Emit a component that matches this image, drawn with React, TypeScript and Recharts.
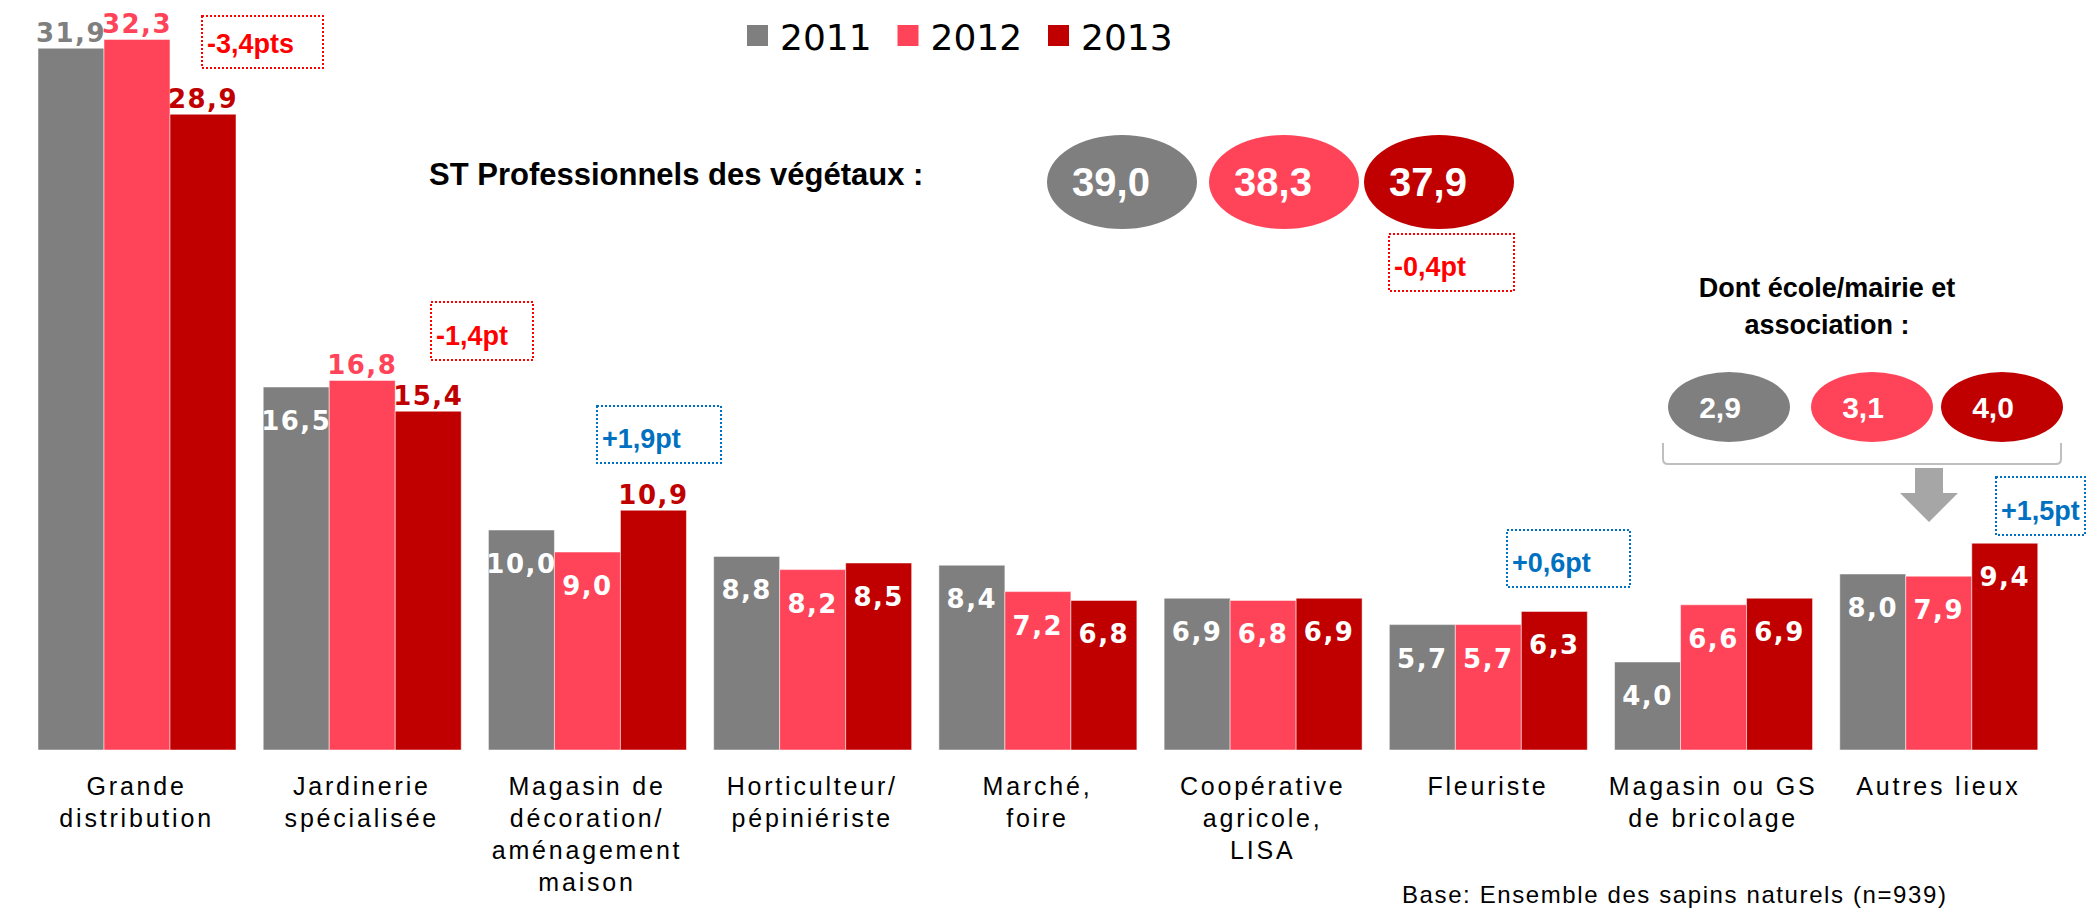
import React from 'react';
import { BarChart, Bar, XAxis, YAxis, LabelList } from 'recharts';

const categories = [
  'Grande\ndistribution',
  'Jardinerie\nspécialisée',
  'Magasin de\ndécoration/\naménagement\nmaison',
  'Horticulteur/\npépiniériste',
  'Marché,\nfoire',
  'Coopérative\nagricole,\nLISA',
  'Fleuriste',
  'Magasin ou GS\nde bricolage',
  'Autres lieux',
];
const values2011 = [31.9, 16.5, 10.0, 8.8, 8.4, 6.9, 5.7, 4.0, 8.0];
const values2012 = [32.3, 16.8, 9.0, 8.2, 7.2, 6.8, 5.7, 6.6, 7.9];
const values2013 = [28.9, 15.4, 10.9, 8.5, 6.8, 6.9, 6.3, 6.9, 9.4];
// indices whose value label sits above the bar (others are inside, white)
const outside2011 = [0];
const outside2012 = [0, 1];
const outside2013 = [0, 1, 2];

const seriesNames = ['2011', '2012', '2013'];
const seriesColors = ['#7f7f7f', '#ff4459', '#c00000'];

const stTitle = 'ST Professionnels des végétaux :';
const stValues = ['39,0', '38,3', '37,9'];
const schoolTitle = ['Dont école/mairie et', 'association :'];
const schoolValues = ['2,9', '3,1', '4,0'];
const baseNote = 'Base: Ensemble des sapins naturels (n=939)';

const deltaLabels = ['-3,4pts', '-1,4pt', '+1,9pt', '-0,4pt', '+0,6pt', '+1,5pt'];
const deltaUp = [false, false, true, false, true, true];

const data = categories.map((c, i) => ({
  cat: c,
  y2011: values2011[i],
  y2012: values2012[i],
  y2013: values2013[i],
}));

const fmt = (v: number) => v.toFixed(1).replace('.', ',');

const makeLabel = (color: string, outside: number[]) => (props: any) => {
  const { x, y, width, value, index } = props;
  const out = outside.includes(index);
  const cx = Number(x) + Number(width) / 2;
  return (
    <text
      x={cx}
      y={out ? Number(y) - 6 : Number(y) + 43}
      textAnchor="middle"
      fill={out ? color : '#ffffff'}
      fontFamily="DejaVu Sans"
      fontWeight="bold"
      fontSize={26}
      letterSpacing={1.5}
    >
      {fmt(Number(value))}
    </text>
  );
};

const CatTick = (props: any) => {
  const { x, y, payload } = props;
  const lines = String(payload.value).split('\n');
  return (
    <g>
      {lines.map((l, i) => (
        <text
          key={i}
          x={x}
          y={Number(y) + 45 + i * 32}
          textAnchor="middle"
          fill="#000"
          fontFamily="Liberation Sans"
          fontSize={25}
          letterSpacing={2.8}
        >
          {l}
        </text>
      ))}
    </g>
  );
};

const boxes = [
  { x: 202, y: 16, w: 121, h: 52 },
  { x: 431, y: 302, w: 102, h: 58 },
  { x: 597, y: 406, w: 124, h: 57 },
  { x: 1389, y: 234, w: 125, h: 57 },
  { x: 1507, y: 530, w: 123, h: 57 },
  { x: 1996, y: 477, w: 89, h: 58 },
];

export default function App() {
  return (
    <div style={{ position: 'absolute', left: 0, top: 0, width: 2087, height: 910, background: '#fff' }}>
      <BarChart
        width={2087}
        height={910}
        data={data}
        margin={{ top: 2, right: 36, left: 24, bottom: 0 }}
        barGap={0}
        barSize={66}
      >
        <XAxis
          dataKey="cat"
          height={160}
          axisLine={false}
          tickLine={false}
          tickSize={0}
          tickMargin={0}
          interval={0}
          tick={<CatTick />}
        />
        <YAxis hide domain={[0, 34]} allowDataOverflow />
        <Bar dataKey="y2011" fill={seriesColors[0]} stroke="#ffffff" strokeOpacity={0.5} isAnimationActive={false}>
          <LabelList dataKey="y2011" content={makeLabel(seriesColors[0], outside2011)} />
        </Bar>
        <Bar dataKey="y2012" fill={seriesColors[1]} stroke="#ffffff" strokeOpacity={0.5} isAnimationActive={false}>
          <LabelList dataKey="y2012" content={makeLabel(seriesColors[1], outside2012)} />
        </Bar>
        <Bar dataKey="y2013" fill={seriesColors[2]} stroke="#ffffff" strokeOpacity={0.5} isAnimationActive={false}>
          <LabelList dataKey="y2013" content={makeLabel(seriesColors[2], outside2013)} />
        </Bar>
      </BarChart>
      <svg
        width={2087}
        height={910}
        style={{ position: 'absolute', left: 0, top: 0, pointerEvents: 'none' }}
      >
        {/* legend */}
        {seriesNames.map((n, i) => (
          <g key={n}>
            <rect x={747 + i * 150.5} y={25} width={21} height={21} fill={seriesColors[i]} />
            <text x={780 + i * 150.5} y={50} fontFamily="DejaVu Sans" fontSize={36} fill="#000">
              {n}
            </text>
          </g>
        ))}
        {/* ST professionnels */}
        <text x={429} y={185} fontFamily="Liberation Sans" fontWeight="bold" fontSize={31} fill="#000">
          {stTitle}
        </text>
        {stValues.map((v, i) => {
          const cx = [1122, 1284, 1439][i];
          return (
            <g key={v}>
              <ellipse cx={cx} cy={182} rx={75} ry={47} fill={seriesColors[i]} />
              <text x={cx - 11} y={196} textAnchor="middle" fontFamily="Liberation Sans" fontWeight="bold" fontSize={40} fill="#fff">
                {v}
              </text>
            </g>
          );
        })}
        {/* école / mairie */}
        {schoolTitle.map((t, i) => (
          <text key={t} x={1827} y={297 + i * 37} textAnchor="middle" fontFamily="Liberation Sans" fontWeight="bold" fontSize={27} fill="#000">
            {t}
          </text>
        ))}
        {schoolValues.map((v, i) => {
          const cx = [1729, 1872, 2002][i];
          return (
            <g key={v}>
              <ellipse cx={cx} cy={407} rx={61} ry={35} fill={seriesColors[i]} />
              <text x={cx - 9} y={418} textAnchor="middle" fontFamily="Liberation Sans" fontWeight="bold" fontSize={30} fill="#fff">
                {v}
              </text>
            </g>
          );
        })}
        <path
          d="M1663 443 L1663 459 Q1663 464 1668 464 L2056 464 Q2061 464 2061 459 L2061 443"
          fill="none"
          stroke="#bfbfbf"
          strokeWidth={2}
        />
        <polygon points="1915,468 1943,468 1943,493 1958,493 1929,522 1900,493 1915,493" fill="#a6a6a6" />
        {/* delta boxes */}
        {boxes.map((b, i) => {
          const col = deltaUp[i] ? '#0070c0' : '#ff0000';
          return (
            <g key={i}>
              <rect x={b.x} y={b.y} width={b.w} height={b.h} fill="none" stroke={col} strokeWidth={2} strokeDasharray="2 2" />
              <text x={b.x + 5} y={b.y + b.h - 15} fontFamily="Liberation Sans" fontWeight="bold" fontSize={27} fill={col}>
                {deltaLabels[i]}
              </text>
            </g>
          );
        })}
        <text x={1402} y={903} fontFamily="Liberation Sans" fontSize={24} letterSpacing={1.6} fill="#000">
          {baseNote}
        </text>
      </svg>
    </div>
  );
}
